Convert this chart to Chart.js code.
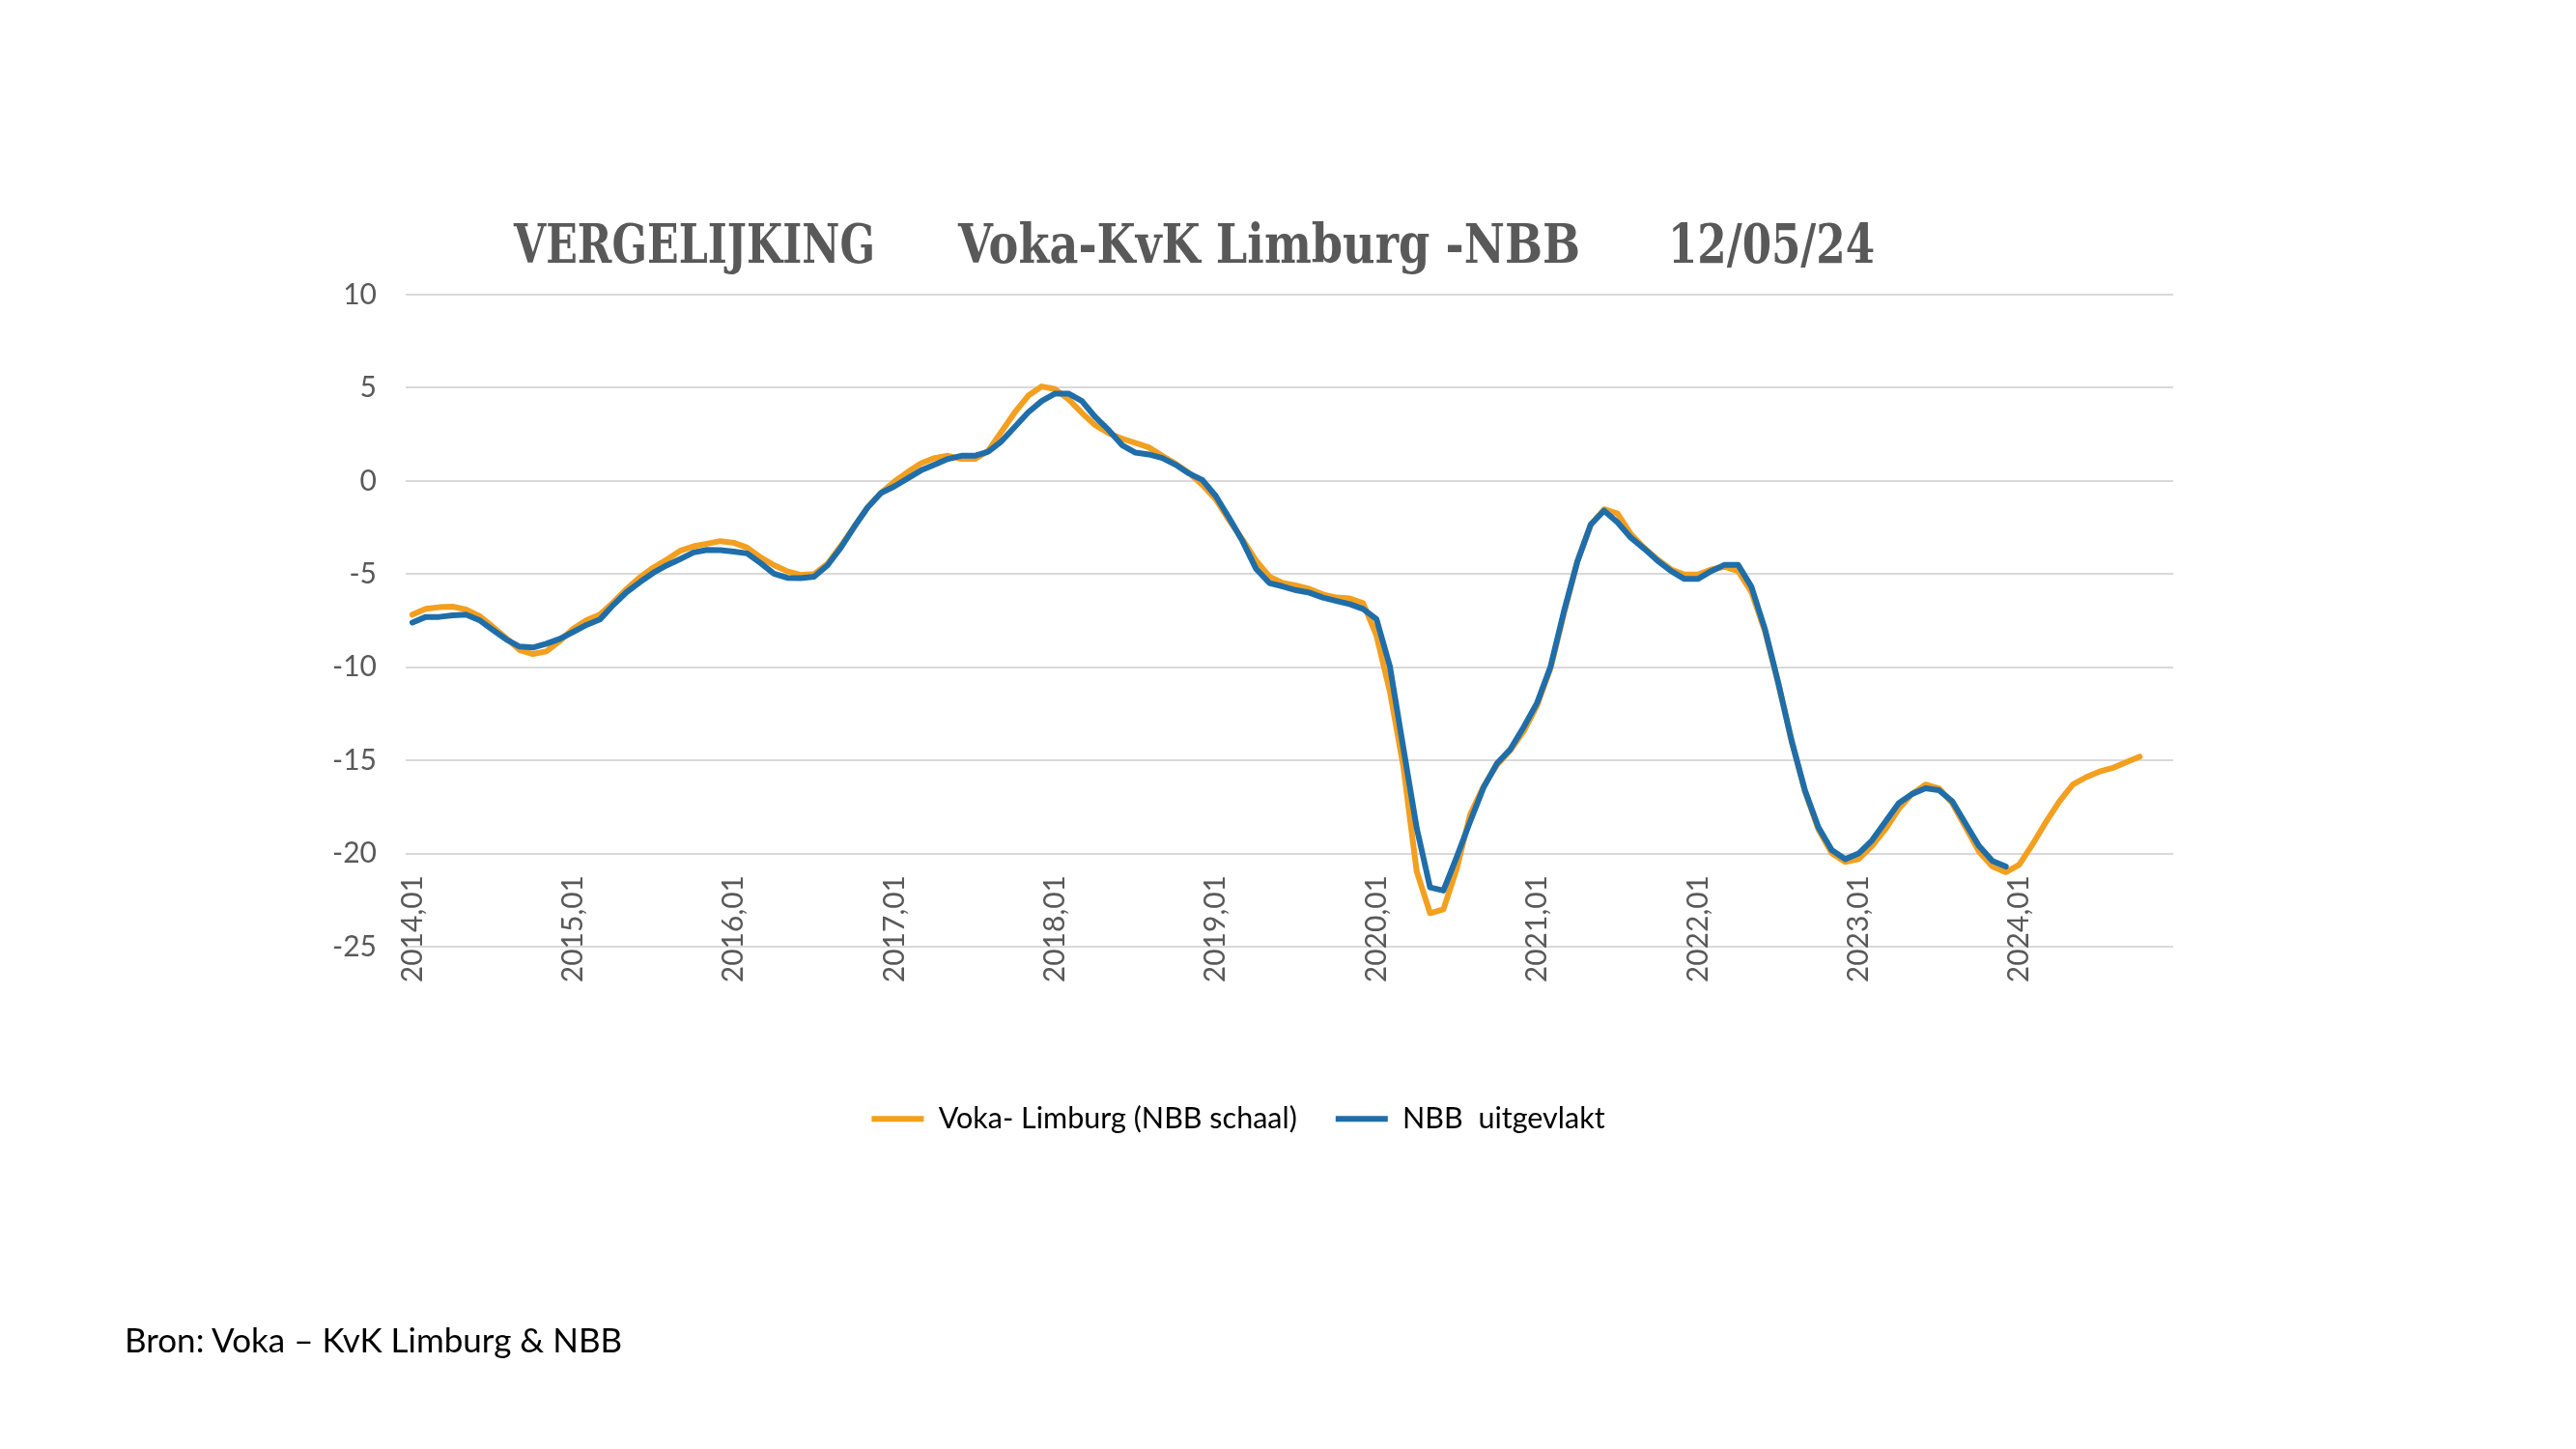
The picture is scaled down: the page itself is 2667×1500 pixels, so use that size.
<!DOCTYPE html>
<html>
<head>
<meta charset="utf-8">
<script src="https://cdn.jsdelivr.net/npm/chart.js@4.4.1/dist/chart.umd.min.js"></script>
<style>
  html, body { margin: 0; padding: 0; background: #ffffff; }
  #wrap { position: relative; width: 2667px; height: 1500px; overflow: hidden; background: #fff; }
  #chart { position: absolute; left: 0; top: 0; }
  .ttl { position: absolute; top: 224px; font-family: 'DejaVu Serif', serif; font-weight: bold; font-size: 56px; line-height: 56px; color: #595959; white-space: pre; transform-origin: 0 50%; }
  #src { position: absolute; left: 129px; top: 1364px; font-family: Lato, 'Open Sans', sans-serif; font-size: 35px; line-height: 44px; color: #000; white-space: pre; }
</style>
</head>
<body>
<div id="wrap">
  <canvas id="chart" width="2667" height="1500"></canvas>
  <div class="ttl" id="t1" style="left:532px">VERGELIJKING</div>
  <div class="ttl" id="t2" style="left:992px">Voka-KvK Limburg -NBB</div>
  <div class="ttl" id="t3" style="left:1727px">12/05/24</div>
  <div id="src">Bron: Voka – KvK Limburg &amp; NBB</div>
</div>
<script>
const years = ['2014','2015','2016','2017','2018','2019','2020','2021','2022','2023','2024'];
const months = ['01','02','03','04','05','06','07','08','09','10','11','12'];
const categories = [];
years.forEach(y => months.forEach(m => categories.push(y + ',' + m)));

const seriesNames = ['Voka- Limburg (NBB schaal)', 'NBB  uitgevlakt'];

const vokaLimburg = [
  -7.18, -6.87, -6.78, -6.75, -6.9, -7.25, -7.82, -8.43, -9.07, -9.29, -9.15, -8.6,
  -7.94, -7.47, -7.18, -6.52, -5.8, -5.17, -4.65, -4.22, -3.75, -3.51, -3.37, -3.23,
  -3.32, -3.58, -4.1, -4.52, -4.85, -5.05, -5.0, -4.45, -3.49, -2.46, -1.42, -0.64,
  -0.03, 0.48, 0.95, 1.23, 1.35, 1.18, 1.18, 1.61, 2.65, 3.69, 4.58, 5.07,
  4.93, 4.38, 3.65, 2.99, 2.56, 2.27, 2.04, 1.8, 1.35, 0.92, 0.43, -0.21,
  -0.99, -2.11, -3.15, -4.27, -5.14, -5.48, -5.62, -5.8, -6.09, -6.26, -6.31, -6.56,
  -8.3, -11.3, -15.3, -20.95, -23.2, -23.0, -20.8, -17.9, -16.4, -15.24, -14.46, -13.43,
  -12.04, -10.05, -7.11, -4.34, -2.35, -1.52, -1.75, -2.85, -3.6, -4.22, -4.75, -5.03,
  -5.03, -4.75, -4.61, -4.84, -5.96, -8.04, -10.83, -13.95, -16.67, -18.7, -19.98, -20.45,
  -20.3, -19.6, -18.7, -17.6, -16.8, -16.3, -16.5, -17.3, -18.6, -19.9, -20.7, -21.0,
  -20.6, -19.5, -18.3, -17.2, -16.3, -15.9, -15.6, -15.4, -15.1, -14.8
];

const nbbUitgevlakt = [
  -7.6, -7.3, -7.3, -7.21, -7.18, -7.47, -7.99, -8.5, -8.89, -8.94, -8.74, -8.48,
  -8.11, -7.73, -7.44, -6.66, -5.97, -5.43, -4.93, -4.53, -4.19, -3.84, -3.7, -3.72,
  -3.79, -3.89, -4.41, -4.98, -5.2, -5.22, -5.14, -4.53, -3.58, -2.46, -1.42, -0.64,
  -0.29, 0.14, 0.57, 0.88, 1.18, 1.35, 1.35, 1.57, 2.13, 2.91, 3.69, 4.29,
  4.69, 4.69, 4.29, 3.43, 2.73, 1.92, 1.52, 1.42, 1.23, 0.87, 0.4, 0.05,
  -0.81, -1.99, -3.24, -4.71, -5.48, -5.66, -5.87, -6.0, -6.26, -6.44, -6.61, -6.87,
  -7.42, -9.95, -14.3, -18.62, -21.82, -21.99, -20.17, -18.27, -16.45, -15.16, -14.4, -13.2,
  -11.9, -9.96, -7.0, -4.33, -2.34, -1.6, -2.22, -3.05, -3.64, -4.29, -4.84, -5.26,
  -5.26, -4.84, -4.5, -4.5, -5.68, -7.93, -10.83, -13.95, -16.62, -18.59, -19.82, -20.3,
  -20.0, -19.3, -18.3, -17.3, -16.8, -16.5, -16.6, -17.2, -18.4, -19.6, -20.4, -20.7
];

const yTicks = [10, 5, 0, -5, -10, -15, -20, -25];

const ORANGE = '#F39F1F';
const BLUE = '#1F6EA9';
const GREY = '#595959';
const FONT = "Lato, 'Open Sans', sans-serif";
const TICK_SIZE = 30;

// fit the title parts to the widths they take in the reference
const titleWidths = { t1: 374, t2: 644, t3: 214 };
function fitTitle() {
  Object.keys(titleWidths).forEach(id => {
    const el = document.getElementById(id);
    el.style.transform = 'none';
    const w = el.getBoundingClientRect().width;
    if (w > 0) el.style.transform = 'scaleX(' + (titleWidths[id] / w) + ')';
  });
}
fitTitle();
if (document.fonts && document.fonts.ready) document.fonts.ready.then(fitTitle);

new Chart(document.getElementById('chart'), {
  type: 'line',
  data: {
    labels: categories,
    datasets: [
      {
        label: seriesNames[0],
        data: categories.map((c, i) => i < vokaLimburg.length ? vokaLimburg[i] : null),
        borderColor: ORANGE,
        backgroundColor: ORANGE,
        borderWidth: 6,
        pointRadius: 0,
        tension: 0,
        borderJoinStyle: 'round',
        borderCapStyle: 'round',
        order: 1
      },
      {
        label: seriesNames[1],
        data: categories.map((c, i) => i < nbbUitgevlakt.length ? nbbUitgevlakt[i] : null),
        borderColor: BLUE,
        backgroundColor: BLUE,
        borderWidth: 6,
        pointRadius: 0,
        tension: 0,
        borderJoinStyle: 'round',
        borderCapStyle: 'round',
        order: 0
      }
    ]
  },
  options: {
    responsive: false,
    animation: false,
    devicePixelRatio: 1,
    layout: { padding: { left: 314, right: 417, top: 305, bottom: 316.5 } },
    plugins: {
      title: { display: false },
      tooltip: { enabled: false },
      legend: {
        display: true,
        position: 'bottom',
        labels: {
          boxWidth: 54,
          boxHeight: 6,
          padding: 40,
          color: GREY,
          font: { family: FONT, size: 30.5 },
          sort: (a, b) => a.datasetIndex - b.datasetIndex,
          generateLabels: (chart) => chart.data.datasets.map((ds, i) => ({
            text: ds.label,
            fillStyle: ds.borderColor,
            strokeStyle: ds.borderColor,
            lineWidth: 0,
            datasetIndex: i,
            hidden: false
          }))
        }
      }
    },
    scales: {
      x: {
        type: 'category',
        offset: true,
        grid: { display: false, drawTicks: false },
        border: { display: false },
        afterFit: (s) => { s.height = 123; },
        ticks: {
          autoSkip: false,
          maxRotation: 90,
          minRotation: 90,
          mirror: true,
          padding: 74,
          labelOffset: TICK_SIZE * 1.2,
          color: GREY,
          font: { family: FONT, size: TICK_SIZE },
          callback: function (val) {
            const lab = this.getLabelForValue(val);
            return lab.endsWith(',01') ? lab : '';
          }
        }
      },
      y: {
        min: -25,
        max: 10,
        afterFit: (s) => { s.width = 106; },
        afterBuildTicks: (s) => { s.ticks = yTicks.map(v => ({ value: v })); },
        grid: { color: '#D9D9D9', lineWidth: 2, drawTicks: false },
        border: { display: false },
        ticks: {
          padding: 30,
          color: GREY,
          font: { family: FONT, size: TICK_SIZE }
        }
      }
    }
  }
});
</script>
</body>
</html>
